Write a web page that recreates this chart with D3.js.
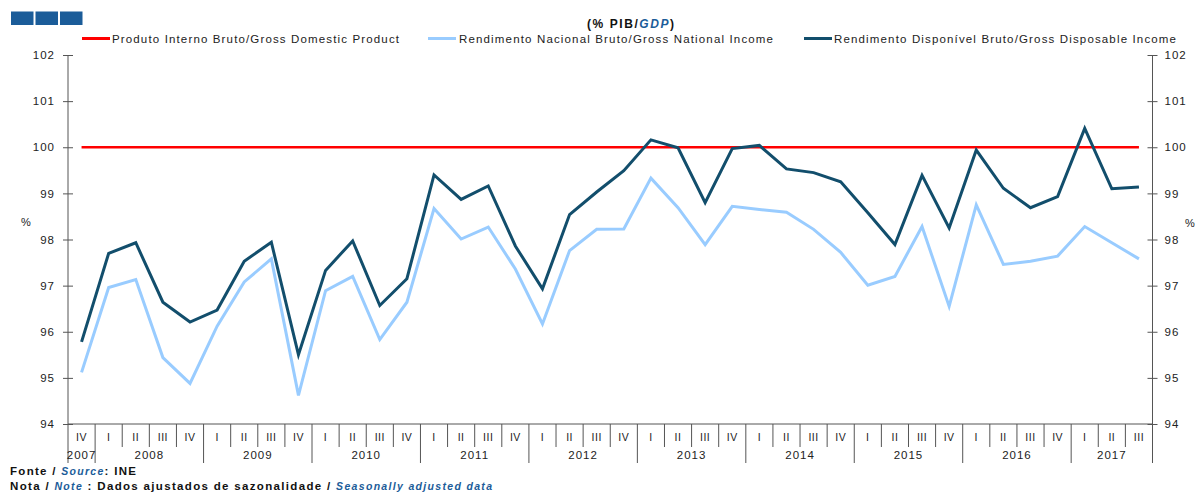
<!doctype html>
<html>
<head>
<meta charset="utf-8">
<title>% PIB/GDP</title>
<script src="https://d3js.org/d3.v7.min.js"></script>
<style>
 body { margin: 0; background: #fff; }
 text { font-family: "Liberation Sans", Arial, sans-serif; }
</style>
</head>
<body>
<script>
// categorias
var years = ["2007","2008","2009","2010","2011","2012","2013","2014","2015","2016","2017"];
var quarters = ["I","II","III","IV"];

// series (% PIB)
var pib = [100,100,100,100,100,100,100,100,100,100,100,100,100,100,100,100,100,100,100,100,
           100,100,100,100,100,100,100,100,100,100,100,100,100,100,100,100,100,100,100,100];
var rnb = [95.12,96.96,97.13,95.44,94.88,96.12,97.08,97.58,94.62,96.89,97.20,95.83,96.64,98.67,
           98.01,98.27,97.36,96.17,97.76,98.22,98.23,99.33,98.69,97.89,98.72,98.65,98.59,98.22,
           97.72,97.01,97.20,98.28,96.55,98.75,97.46,97.53,97.64,98.28,97.93,97.58];
var rdb = [95.78,97.70,97.93,96.64,96.21,96.47,97.53,97.94,95.50,97.33,97.97,96.57,97.15,99.40,
           98.87,99.16,97.86,96.93,98.54,99.03,99.49,100.16,99.99,98.80,99.97,100.04,99.53,99.45,
           99.25,98.58,97.89,99.39,98.25,99.94,99.11,98.69,98.93,100.41,99.10,99.14];
var yTicks = [94,95,96,97,98,99,100,101,102];

var seriesNames = ["Produto Interno Bruto/Gross Domestic Product",
                   "Rendimento Nacional Bruto/Gross National Income",
                   "Rendimento Disponível Bruto/Gross Disposable Income"];

// periodos 2007 IV .. 2017 III
var periods = [];
years.forEach(function(y) {
  quarters.forEach(function(q) { periods.push({year: y, q: q, id: y + " " + q}); });
});
periods = periods.slice(3, 3 + rdb.length);

var W = 1197, H = 494;
var x0 = 68, x1 = 1152.5, yTop = 55, yBot = 424;
var cBlue = "#1b5c99", cDark = "#124e6c", cLight = "#99ccff", cRed = "#ff0000";

var svg = d3.select("body").append("svg").attr("width", W).attr("height", H);

var x = d3.scaleBand().domain(periods.map(function(d){ return d.id; })).range([x0, x1]).padding(0);
var y = d3.scaleLinear().domain([94, 102]).range([yBot, yTop]);

// logo
[0,1,2].forEach(function(i) {
  svg.append("rect").attr("x", 11 + i*24.5).attr("y", 11.5).attr("width", 22.5).attr("height", 13.5).attr("fill", cBlue);
});

// titulo
var t = svg.append("text").attr("x", 587).attr("y", 27.5).attr("font-size", 12).attr("font-weight", "bold")
  .attr("fill", "#111").attr("textLength", 87).attr("lengthAdjust", "spacing");
t.append("tspan").text("(% PIB/");
t.append("tspan").attr("fill", cBlue).attr("font-style", "italic").text("GDP");
t.append("tspan").text(")");

// legenda
var legend = [
  {name: seriesNames[0], color: cRed, lx: 82, tx: 112, w: 287},
  {name: seriesNames[1], color: cLight, lx: 428, tx: 459, w: 314},
  {name: seriesNames[2], color: cDark, lx: 804, tx: 834, w: 342}
];
legend.forEach(function(l) {
  svg.append("line").attr("x1", l.lx).attr("x2", l.lx + 28).attr("y1", 38.5).attr("y2", 38.5)
     .attr("stroke", l.color).attr("stroke-width", 3);
  svg.append("text").attr("x", l.tx).attr("y", 42.5).attr("font-size", 11.5).attr("fill", "#222")
     .attr("textLength", l.w).attr("lengthAdjust", "spacing").text(l.name);
});

// eixos y
var axL = svg.append("g").attr("transform", "translate(" + x0 + ",0)")
  .call(d3.axisLeft(y).tickValues(yTicks).tickSizeInner(5).tickSizeOuter(0).tickPadding(8));
var axR = svg.append("g").attr("transform", "translate(" + x1 + ",0)")
  .call(d3.axisRight(y).tickValues(yTicks).tickSizeInner(5).tickSizeOuter(0).tickPadding(7));
[axL, axR].forEach(function(a, i) {
  a.select(".domain").attr("stroke", "#555");
  a.selectAll(".tick line").attr("stroke", "#555").attr("x1", i == 0 ? 5 : -5);
  a.selectAll(".tick text").attr("font-size", 11.5).attr("fill", "#222")
   .attr("font-family", "Liberation Sans, Arial, sans-serif").attr("letter-spacing", 1);
});
axL.select(".domain").attr("d", "M0," + yTop + "V" + (yBot + 39));
axR.select(".domain").attr("d", "M0," + yTop + "V" + (yBot + 39));

svg.append("text").attr("x", 21).attr("y", 226).attr("font-size", 11).attr("fill", "#222").text("%");
svg.append("text").attr("x", 1185).attr("y", 227).attr("font-size", 11).attr("fill", "#222").text("%");

// eixo x (categorias)
var gx = svg.append("g");
gx.append("line").attr("x1", x0).attr("x2", x1).attr("y1", yBot).attr("y2", yBot).attr("stroke", "#555");
periods.forEach(function(d, i) {
  if (i > 0) {
    var isYear = d.q == "I";
    gx.append("line").attr("x1", x(d.id)).attr("x2", x(d.id))
      .attr("y1", yBot).attr("y2", yBot + (isYear ? 39 : 23)).attr("stroke", "#555");
  }
  gx.append("text").attr("x", x(d.id) + x.bandwidth()/2).attr("y", yBot + 17)
    .attr("text-anchor", "middle").attr("font-size", 10.5).attr("fill", "#222").attr("letter-spacing", 0.5)
    .text(d.q);
});
years.forEach(function(yr) {
  var ps = periods.filter(function(d){ return d.year == yr; });
  var a = x(ps[0].id), b = x(ps[ps.length-1].id) + x.bandwidth();
  gx.append("text").attr("x", (a + b)/2).attr("y", yBot + 35).attr("text-anchor", "middle")
    .attr("font-size", 11.5).attr("fill", "#222").attr("letter-spacing", 1).text(yr);
});

// linhas
function drawLine(vals, color, w) {
  var line = d3.line()
    .x(function(d, i){ return x(periods[i].id) + x.bandwidth()/2; })
    .y(function(d){ return y(d); });
  svg.append("path").datum(vals).attr("d", line).attr("fill", "none")
     .attr("stroke", color).attr("stroke-width", w).attr("stroke-linejoin", "miter");
}
drawLine(pib, cRed, 2.5);
drawLine(rnb, cLight, 3);
drawLine(rdb, cDark, 3);

// rodape
var f1 = svg.append("text").attr("x", 10).attr("y", 475).attr("font-size", 11.5).attr("font-weight", "bold")
  .attr("fill", "#111").attr("textLength", 126).attr("lengthAdjust", "spacing");
f1.append("tspan").text("Fonte / ");
f1.append("tspan").attr("fill", cBlue).attr("font-style", "italic").attr("font-size", 10.5).text("Source");
f1.append("tspan").text(":  INE");
var f2 = svg.append("text").attr("x", 10).attr("y", 490).attr("font-size", 11.5).attr("font-weight", "bold")
  .attr("fill", "#111").attr("textLength", 482).attr("lengthAdjust", "spacing");
f2.append("tspan").text("Nota / ");
f2.append("tspan").attr("fill", cBlue).attr("font-style", "italic").attr("font-size", 10.5).text("Note");
f2.append("tspan").text(" : Dados ajustados de sazonalidade / ");
f2.append("tspan").attr("fill", cBlue).attr("font-style", "italic").attr("font-size", 10.5).text("Seasonally adjusted data");
</script>
</body>
</html>
